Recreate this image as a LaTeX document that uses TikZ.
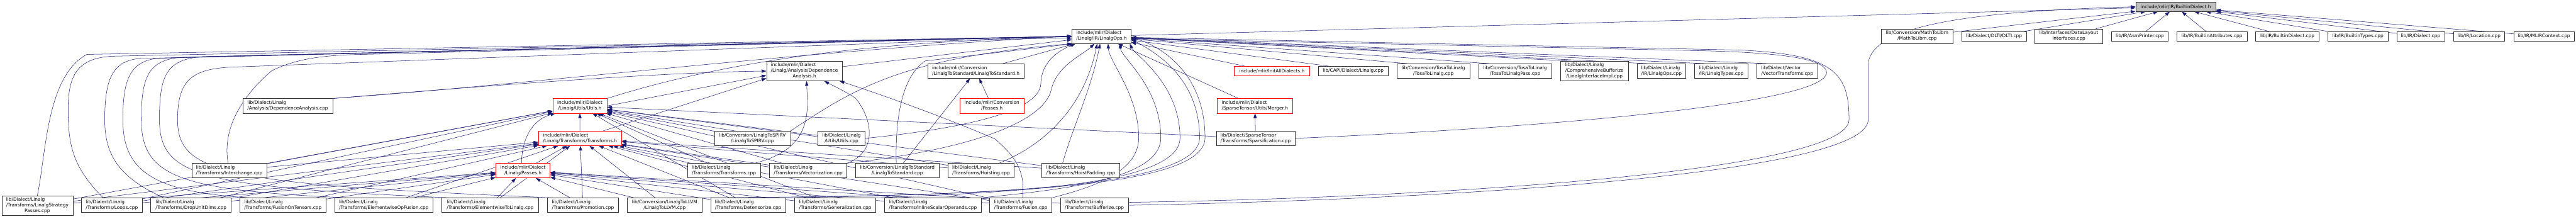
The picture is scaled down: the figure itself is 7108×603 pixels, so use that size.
\documentclass[tikz,border=0pt]{standalone}
\usepackage{fontspec}
\setmainfont{DejaVu Sans}
\usepackage{tikz}
\usetikzlibrary{arrows.meta,backgrounds}
\definecolor{edgeblue}{RGB}{25,25,112}
% label: first lines flush left, last line centred
\newcommand{\flab}[2]{\begin{tabular}{@{}l@{}}#1\\\multicolumn{1}{@{}c@{}}{#2}\end{tabular}}

\begin{document}
\begin{tikzpicture}[x=1pt,y=1pt,
  fn/.style={draw=black!80,line width=1pt,fill=white,inner xsep=2pt,inner ysep=2pt,
    font=\fontsize{12.8}{15.3}\selectfont},
  trunc/.style={fn,draw=red},
  one/.style={minimum height=26},
  two/.style={minimum height=40},
  three/.style={minimum height=54},
  inc/.style={draw=edgeblue,line width=0.9pt,-{Triangle[length=13pt,width=9pt]}}]
  \useasboundingbox (0,0) rectangle (7108,-603);

  % root
  \node[fn,one,minimum width=221,fill=black!25] (root) at (6003.5,-18.5) {include/mlir/IR/BuiltinDialect.h};

  % first row
  \node[fn,two,minimum width=163] (lops) at (3039.5,-100) {\flab{include/mlir/Dialect}{/Linalg/IR/LinalgOps.h}};
  \node[fn,two,minimum width=198] (libm) at (5290,-100) {\flab{lib/Conversion/MathToLibm}{/MathToLibm.cpp}};
  \node[fn,one,minimum width=178] (dlti) at (5502,-100) {lib/Dialect/DLTI/DLTI.cpp};
  \node[fn,two,minimum width=187] (dli) at (5708.5,-100) {\flab{lib/Interfaces/DataLayout}{Interfaces.cpp}};
  \node[fn,one,minimum width=157] (asmp) at (5904.5,-100) {lib/IR/AsmPrinter.cpp};
  \node[fn,one,minimum width=193] (battr) at (6103.5,-100) {lib/IR/BuiltinAttributes.cpp};
  \node[fn,one,minimum width=175] (bdial) at (6311.5,-100) {lib/IR/BuiltinDialect.cpp};
  \node[fn,one,minimum width=166] (btypes) at (6506,-100) {lib/IR/BuiltinTypes.cpp};
  \node[fn,one,minimum width=132] (dialcpp) at (6679,-100) {lib/IR/Dialect.cpp};
  \node[fn,one,minimum width=141] (loccpp) at (6840.5,-100) {lib/IR/Location.cpp};
  \node[fn,one,minimum width=167] (ctx) at (7019.5,-100) {lib/IR/MLIRContext.cpp};

  % second row
  \node[fn,three,minimum width=209] (dah) at (2219.5,-196) {\flab{include/mlir/Dialect\\/Linalg/Analysis/Dependence}{Analysis.h}};
  \node[fn,two,minimum width=265] (l2sh) at (2692.5,-196) {\flab{include/mlir/Conversion}{/LinalgToStandard/LinalgToStandard.h}};
  \node[trunc,one,minimum width=207] (initall) at (3509.5,-196) {include/mlir/InitAllDialects.h};
  \node[fn,one,minimum width=192] (capi) at (3734,-196) {lib/CAPI/Dialect/Linalg.cpp};
  \node[fn,two,minimum width=202] (tosa) at (3955,-196) {\flab{lib/Conversion/TosaToLinalg}{/TosaToLinalg.cpp}};
  \node[fn,two,minimum width=201] (tosapass) at (4180.5,-196) {\flab{lib/Conversion/TosaToLinalg}{/TosaToLinalgPass.cpp}};
  \node[fn,three,minimum width=187] (cbuf) at (4399.5,-196) {\flab{lib/Dialect/Linalg\\/ComprehensiveBufferize}{/LinalgInterfaceImpl.cpp}};
  \node[fn,two,minimum width=135] (lopscpp) at (4584.5,-196) {\flab{lib/Dialect/Linalg}{/IR/LinalgOps.cpp}};
  \node[fn,two,minimum width=147] (ltypes) at (4749.5,-196) {\flab{lib/Dialect/Linalg}{/IR/LinalgTypes.cpp}};
  \node[fn,two,minimum width=167] (vtrans) at (4931.5,-196) {\flab{lib/Dialect/Vector}{/VectorTransforms.cpp}};

  % third row
  \node[fn,two,minimum width=248] (dacpp) at (794,-292) {\flab{lib/Dialect/Linalg}{/Analysis/DependenceAnalysis.cpp}};
  \node[trunc,two,minimum width=150] (utilsh) at (1600,-292) {\flab{include/mlir/Dialect}{/Linalg/Utils/Utils.h}};
  \node[trunc,two,minimum width=176] (convpasses) at (2737,-292) {\flab{include/mlir/Conversion}{/Passes.h}};
  \node[trunc,two,minimum width=207] (merger) at (3462.5,-292) {\flab{include/mlir/Dialect}{/SparseTensor/Utils/Merger.h}};

  % fourth row
  \node[trunc,two,minimum width=229] (transh) at (1600.5,-381.5) {\flab{include/mlir/Dialect}{/Linalg/Transforms/Transforms.h}};
  \node[fn,two,minimum width=210] (spirv) at (2076,-381.5) {\flab{lib/Conversion/LinalgToSPIRV}{/LinalgToSPIRV.cpp}};
  \node[fn,two,minimum width=130] (utilscpp) at (2322,-381.5) {\flab{lib/Dialect/Linalg}{/Utils/Utils.cpp}};
  \node[fn,two,minimum width=217] (sparse) at (3464.5,-381.5) {\flab{lib/Dialect/SparseTensor}{/Transforms/Sparsification.cpp}};

  % fifth row
  \node[fn,two,minimum width=207] (interch) at (632.5,-470.5) {\flab{lib/Dialect/Linalg}{/Transforms/Interchange.cpp}};
  \node[trunc,two,minimum width=150] (passesh) at (1443,-470.5) {\flab{include/mlir/Dialect}{/Linalg/Passes.h}};
  \node[fn,two,minimum width=201] (transcpp) at (1997.5,-470.5) {\flab{lib/Dialect/Linalg}{/Transforms/Transforms.cpp}};
  \node[fn,two,minimum width=214] (vect) at (2230,-470.5) {\flab{lib/Dialect/Linalg}{/Transforms/Vectorization.cpp}};
  \node[fn,two,minimum width=230] (l2scpp) at (2476,-470.5) {\flab{lib/Conversion/LinalgToStandard}{/LinalgToStandard.cpp}};
  \node[fn,two,minimum width=182] (hoist) at (2707,-470.5) {\flab{lib/Dialect/Linalg}{/Transforms/Hoisting.cpp}};
  \node[fn,two,minimum width=214] (hoistpad) at (2982,-470.5) {\flab{lib/Dialect/Linalg}{/Transforms/HoistPadding.cpp}};

  % bottom row
  \node[fn,three,minimum width=196] (strat) at (103,-567) {\flab{lib/Dialect/Linalg\\/Transforms/LinalgStrategy}{Passes.cpp}};
  \node[fn,two,minimum width=167] (loops) at (308.5,-566) {\flab{lib/Dialect/Linalg}{/Transforms/Loops.cpp}};
  \node[fn,two,minimum width=222] (dropunit) at (527,-566) {\flab{lib/Dialect/Linalg}{/Transforms/DropUnitDims.cpp}};
  \node[fn,two,minimum width=237] (fot) at (780.5,-566) {\flab{lib/Dialect/Linalg}{/Transforms/FusionOnTensors.cpp}};
  \node[fn,two,minimum width=272] (ewfusion) at (1059,-566) {\flab{lib/Dialect/Linalg}{/Transforms/ElementwiseOpFusion.cpp}};
  \node[fn,two,minimum width=267] (ew2l) at (1352.5,-566) {\flab{lib/Dialect/Linalg}{/Transforms/ElementwiseToLinalg.cpp}};
  \node[fn,two,minimum width=195] (promo) at (1608.5,-566) {\flab{lib/Dialect/Linalg}{/Transforms/Promotion.cpp}};
  \node[fn,two,minimum width=206] (l2llvm) at (1834,-566) {\flab{lib/Conversion/LinalgToLLVM}{/LinalgToLLVM.cpp}};
  \node[fn,two,minimum width=207] (detens) at (2064.5,-566) {\flab{lib/Dialect/Linalg}{/Transforms/Detensorize.cpp}};
  \node[fn,two,minimum width=223] (gener) at (2304.5,-566) {\flab{lib/Dialect/Linalg}{/Transforms/Generalization.cpp}};
  \node[fn,two,minimum width=266] (inlsc) at (2574,-566) {\flab{lib/Dialect/Linalg}{/Transforms/InlineScalarOperands.cpp}};
  \node[fn,two,minimum width=171] (fusion) at (2816.5,-566) {\flab{lib/Dialect/Linalg}{/Transforms/Fusion.cpp}};
  \node[fn,two,minimum width=187] (bufz) at (3019.5,-566) {\flab{lib/Dialect/Linalg}{/Transforms/Bufferize.cpp}};

  \begin{scope}[on background layer]
    % direct users of the root header
    \foreach \n in {lops,libm,dlti,dli,asmp,battr,bdial,btypes,dialcpp,loccpp,ctx}
      \draw[inc] (\n) -- (root);
    \draw[inc] (bufz.east) .. controls (4000,-550) and (5155,-480) .. (5155,-330) -- (5155,-180)
      .. controls (5155,-60) and (5500,-30) .. (root.west);

    % users of LinalgOps.h
    \foreach \n in {initall,capi,tosa,tosapass,cbuf,lopscpp,ltypes,vtrans}
      \draw[inc] ([xshift=30pt]\n.north west) -- (lops);
    \foreach \n in {dah,l2sh,merger}
      \draw[inc] (\n) -- (lops);
    \draw[inc] (dacpp.north east) .. controls (1500,-230) and (2200,-140) .. (lops.west);
    \draw[inc] (utilsh.north east) .. controls (1900,-200) and (2300,-110) .. ([yshift=-5pt]lops.west);
    \draw[inc] (spirv.north east) .. controls (2350,-250) and (2480,-160) .. (lops.south west);
    \draw[inc] ([xshift=-3pt]l2scpp.north) .. controls (2470,-320) and (2490,-210) .. (2553,-168) -- ([xshift=4pt]lops.south west);
    \draw[inc] (utilscpp.east) .. controls (2700,-350) and (2870,-300) .. (2872,-230)
      .. controls (2874,-170) and (2920,-140) .. ([xshift=10pt]lops.south west);
    \draw[inc] (vect.north east) .. controls (2700,-410) and (2880,-330) .. (2900,-250)
      .. controls (2915,-180) and (2990,-150) .. ([xshift=-20pt]lops.south);
    \draw[inc] ([xshift=50pt]hoist.north) .. controls (2880,-400) and (2990,-300) .. ([xshift=-12pt]lops.south);
    \draw[inc] ([xshift=-50pt]hoistpad.north) .. controls (2960,-350) and (3010,-250) .. ([xshift=-4pt]lops.south);
    \draw[inc] (sparse.east) .. controls (4200,-355) and (5040,-290) .. (5040,-200)
      .. controls (5040,-160) and (4900,-145) .. (4700,-140) -- ([yshift=-6pt]lops.east);
    \draw[inc] ([yshift=8pt]bufz.east) .. controls (4000,-545) and (5102,-470) .. (5102,-330)
      .. controls (5102,-200) and (5060,-150) .. (4800,-138) -- ([yshift=-3pt]lops.east);
    % long loops on the left
    \draw[inc] (strat.north) .. controls (128,-420) and (128,-210) .. (240,-150) -- (lops.west);
    \draw[inc] ([xshift=-24pt]loops.north) .. controls (200,-460) and (188,-400) .. (188,-300)
      .. controls (188,-200) and (220,-160) .. (310,-155) -- (lops.west);
    \draw[inc] ([xshift=-75pt]dropunit.north) .. controls (330,-490) and (289,-430) .. (289,-330)
      .. controls (289,-220) and (310,-170) .. (380,-162) -- (lops.west);
    \draw[inc] ([xshift=-90pt]fot.north) .. controls (420,-530) and (339,-470) .. (339,-330)
      .. controls (339,-215) and (360,-168) .. (440,-160) -- (lops.west);
    \draw[inc] ([xshift=-100pt]ewfusion.north) .. controls (500,-525) and (390,-490) .. (390,-330)
      .. controls (390,-210) and (410,-166) .. (500,-158) -- (lops.west);
    \draw[inc] ([xshift=-110pt]ew2l.north) .. controls (560,-515) and (440,-490) .. (440,-330)
      .. controls (440,-205) and (460,-164) .. (560,-156) -- (lops.west);
    \draw[inc] ([xshift=-80pt]promo.north) .. controls (620,-508) and (490,-480) .. (490,-330)
      .. controls (490,-220) and (530,-190) .. (640,-185) -- (lops.west);
    \draw[inc] ([xshift=-3pt]interch.north) .. controls (615,-370) and (650,-280) .. (750,-195)
      .. controls (820,-160) and (900,-152) .. (1000,-150) -- (lops.west);
    % fan on the right of LinalgOps.h
    \draw[inc] (fusion.north east) .. controls (3000,-520) and (3142,-480) .. (3142,-380)
      .. controls (3142,-260) and (3060,-170) .. ([xshift=18pt]lops.south);
    \draw[inc] (inlsc.north east) .. controls (2900,-525) and (3203,-500) .. (3203,-380)
      .. controls (3203,-240) and (3095,-160) .. ([xshift=50pt]lops.south);
    \draw[inc] (gener.north east) .. controls (2800,-530) and (3256,-510) .. (3256,-380)
      .. controls (3256,-230) and (3130,-150) .. ([xshift=-4pt]lops.south east);
    \draw[inc] (detens.north east) .. controls (2700,-535) and (3310,-520) .. (3310,-380)
      .. controls (3310,-210) and (3180,-140) .. ([yshift=-8pt]lops.east);
    \draw[inc] (l2llvm.north east) .. controls (2700,-540) and (3325,-525) .. (3325,-380)
      .. controls (3325,-200) and (3200,-125) .. ([yshift=-4pt]lops.east);

    % LinalgToStandard.h, Merger.h
    \foreach \n in {convpasses,l2scpp}
      \draw[inc] (\n) -- (l2sh);
    \draw[inc] (sparse) -- (merger);

    % DependenceAnalysis.h
    \draw[inc] (dacpp.north east) .. controls (1300,-240) and (1800,-200) .. (dah.west);
    \draw[inc] (utilsh.east) -- ([yshift=-12pt]dah.west);
    \draw[inc] (transh) -- ([yshift=-20pt]dah.west);
    \draw[inc] ([xshift=85pt]transcpp.north) .. controls (2200,-420) and (2228,-360) .. (2228,-280) -- ([xshift=6pt]dah.south);
    \draw[inc] (vect.north east) .. controls (2420,-420) and (2410,-330) .. (2360,-270)
      .. controls (2320,-245) and (2290,-232) .. ([xshift=55pt]dah.south);
    \draw[inc] ([xshift=5pt]fusion.north) .. controls (2830,-470) and (2800,-430) .. (2745,-383)
      .. controls (2600,-320) and (2400,-250) .. ([xshift=-8pt]dah.south east);

    % Utils.h
    \draw[inc] (transh) -- (utilsh);
    \draw[inc] ([xshift=-4pt]passesh.north) .. controls (1440,-380) and (1470,-330) .. ([xshift=8pt]utilsh.south west);
    \foreach \n in {strat,loops,dropunit,interch,spirv,utilscpp,sparse,vect,transcpp,detens,gener,hoist,hoistpad,fusion}
      \draw[inc] (\n) -- (utilsh);

    % Transforms.h
    \foreach \n in {passesh,strat,loops,dropunit,interch,promo,ew2l,fot,ewfusion,l2llvm,detens,gener,inlsc,fusion,transcpp,vect,hoist,hoistpad}
      \draw[inc] (\n) -- (transh);

    % Passes.h
    \foreach \n in {strat,loops,dropunit,fot,ewfusion,ew2l,promo,l2llvm,detens,gener,inlsc,fusion,bufz}
      \draw[inc] (\n) -- (passesh);
  \end{scope}
\end{tikzpicture}
\end{document}
